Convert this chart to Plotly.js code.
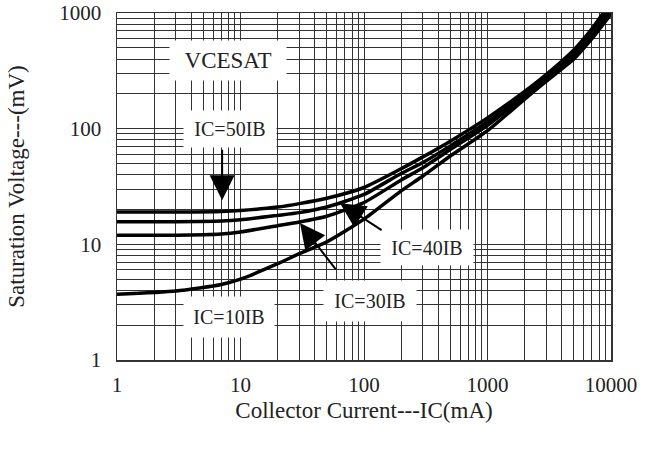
<!DOCTYPE html>
<html>
<head>
<meta charset="utf-8">
<script src="https://cdn.plot.ly/plotly-3.0.1.min.js"></script>
<style>html,body{margin:0;padding:0;background:#fff;}#chart{width:654px;height:452px;}</style>
</head>
<body>
<div id="chart"></div>
<script>
// Collector current (mA)
const currentIC = [1, 3, 7, 10, 20, 30, 50, 100, 200, 300, 500, 1000, 2000, 3000, 5000, 7000, 10000];
// Saturation voltage (mV) per series
const vce50IB = [19, 19, 19.2, 19.6, 21, 22.5, 25, 31, 45, 57, 78, 124, 210, 295, 480, 730, 1250];
const vce40IB = [15.7, 15.7, 15.9, 16.3, 17.8, 18.8, 21, 27, 41, 51, 71, 115, 200, 282, 455, 700, 1150];
const vce30IB = [12, 12, 12.3, 12.8, 14.5, 15.6, 17.5, 23, 36, 46, 66, 107, 190, 268, 420, 630, 1050];
const vce10IB = [3.7, 3.95, 4.5, 5, 6.8, 8.3, 10.5, 16.5, 29, 39, 58, 96, 180, 258, 400, 600, 980];
const seriesNames = ['IC=50IB', 'IC=40IB', 'IC=30IB', 'IC=10IB'];

const xTickVals = [1, 10, 100, 1000, 10000];
const xTickText = ['1', '10', '100', '1000', '10000'];
const yTickVals = [1, 10, 100, 1000];
const yTickText = ['1', '10', '100', '1000'];

const FONT = 'Liberation Serif, Times New Roman, serif';
const allY = [vce50IB, vce40IB, vce30IB, vce10IB];
const traces = allY.map((ys, i) => ({
  x: currentIC, y: ys, name: seriesNames[i], type: 'scatter', mode: 'lines',
  line: {color: '#000', width: 3.5, shape: 'spline', smoothing: 0.6},
  hoverinfo: 'skip'
}));

const L = Math.log10;
const gridCol = '#333';
const lab = (x, y, text, w, h, size) => ({
  xref: 'paper', yref: 'paper', x: x, y: y, xanchor: 'center', yanchor: 'middle',
  text: text, showarrow: false, bgcolor: '#fff', width: w, height: h,
  font: {family: FONT, size: size, color: '#222'}
});
const arr = (x, y, ax, ay) => ({
  xref: 'x', yref: 'y', x: L(x), y: L(y), ax: ax, ay: ay, text: '', showarrow: true,
  arrowhead: 2, arrowsize: 2.5, arrowwidth: 2, arrowcolor: '#000', standoff: 0
});
const layout = {
  width: 654, height: 452,
  margin: {l: 117, r: 43, t: 13, b: 92},
  paper_bgcolor: '#fff', plot_bgcolor: '#fff',
  showlegend: false,
  font: {family: FONT, size: 21, color: '#222'},
  xaxis: {
    type: 'log', range: [0, 4],
    tickmode: 'array', tickvals: xTickVals, ticktext: xTickText,
    ticks: 'outside', ticklen: 5, tickcolor: 'rgba(0,0,0,0)',
    showgrid: true, gridcolor: gridCol, gridwidth: 1,
    minor: {tickmode: 'linear', dtick: 'D1', showgrid: true, gridcolor: gridCol, gridwidth: 1, ticks: ''},
    showline: true, mirror: true, linecolor: '#333', linewidth: 1.5,
    zeroline: false,
    tickfont: {family: FONT, size: 21, color: '#222'},
    title: {text: 'Collector Current---IC(mA)', font: {family: FONT, size: 23, color: '#222'}, standoff: 6}
  },
  yaxis: {
    type: 'log', range: [0, 3],
    tickmode: 'array', tickvals: yTickVals, ticktext: yTickText,
    ticks: 'outside', ticklen: 10, tickcolor: 'rgba(0,0,0,0)',
    showgrid: true, gridcolor: gridCol, gridwidth: 1,
    minor: {tickmode: 'linear', dtick: 'D1', showgrid: true, gridcolor: gridCol, gridwidth: 1, ticks: ''},
    showline: true, mirror: true, linecolor: '#333', linewidth: 1.5,
    zeroline: false,
    tickfont: {family: FONT, size: 21, color: '#222'},
    title: {text: 'Saturation Voltage---(mV)', font: {family: FONT, size: 23, color: '#222'}, standoff: 28}
  },
  annotations: [
    lab(0.2247, 0.862, 'VCESAT', 114, 37, 23),
    lab(0.2287, 0.666, 'IC=50IB', 90, 34, 20),
    lab(0.2267, 0.124, 'IC=10IB', 88, 38, 20),
    lab(0.5121, 0.170, 'IC=30IB', 90, 38, 20),
    lab(0.6275, 0.323, 'IC=40IB', 90, 33, 20),
    arr(7.1, 24, 0, -52),
    arr(30.3, 15.3, 37, 48),
    arr(64, 22.7, 43, 28)
  ]
};

Plotly.newPlot('chart', traces, layout, {staticPlot: true, displayModeBar: false});
</script>
</body>
</html>
